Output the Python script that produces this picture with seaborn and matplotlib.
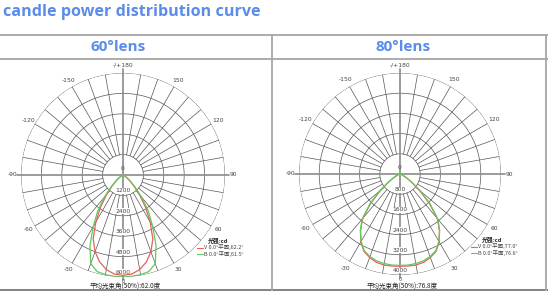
import numpy as np
import pandas as pd
import matplotlib
matplotlib.use("Agg")
import matplotlib.pyplot as plt
import seaborn as sns

# ---------------- data ----------------
angles = [-90, -80, -70, -60, -55, -50, -45, -40, -35, -30, -25, -20, -15, -10, -5, 0,
          5, 10, 15, 20, 25, 30, 35, 40, 45, 50, 55, 60, 70, 80, 90]

# 60° lens (cd)
v60 = [0, 10, 30, 100, 250, 500, 900, 1500, 2300, 3200, 4150, 4800, 5300, 5650, 5850, 5900,
       5850, 5650, 5300, 4800, 4150, 3200, 2300, 1500, 900, 500, 250, 100, 30, 10, 0]
b60 = [0, 10, 40, 120, 280, 550, 1000, 1700, 2600, 3500, 4600, 5550, 5880, 5950, 5980, 6000,
       5980, 5950, 5880, 5550, 4600, 3500, 2600, 1700, 1000, 550, 280, 120, 40, 10, 0]

# 80° lens (cd)
v80 = [0, 20, 80, 280, 550, 1000, 1650, 2300, 2720, 3100, 3380, 3520, 3620, 3660, 3660, 3650,
       3660, 3660, 3620, 3520, 3380, 3100, 2720, 2300, 1650, 1000, 550, 280, 80, 20, 0]
b80 = [0, 20, 90, 300, 580, 1050, 1700, 2330, 2740, 3080, 3350, 3480, 3560, 3600, 3620, 3620,
       3620, 3600, 3560, 3480, 3350, 3080, 2740, 2330, 1700, 1050, 580, 300, 90, 20, 0]

panel_titles = ["60°lens", "80°lens"]
ring_ticks_60 = [1200, 2400, 3600, 4800, 6000]
ring_ticks_80 = [800, 1600, 2400, 3200, 4000]
angle_ticks = [0, 30, 60, 90, 120, 150, 180, -150, -120, -90, -60, -30]
angle_labels = ["0", "30", "60", "90", "120", "150", "-/+180", "-150", "-120", "-90", "-60", "-30"]
legend_title = "光强:cd"
legend_60 = ["V 0.0°平面,62.2°", "B 0.0°平面,61.5°"]
legend_80 = ["V 0.0°平面,77.0°", "B 0.0°平面,76.6°"]
beam_60 = "平均光束角(50%):62.0度"
beam_80 = "平均光束角(50%):76.8度"
main_title = "candle power distribution curve"

# ---------------- style ----------------
sns.set_theme(style="white")
plt.rcParams["font.family"] = ["Noto Sans CJK SC", "DejaVu Sans"]

W, H = 548, 291
fig = plt.figure(figsize=(W / 100, H / 100), dpi=100)
fig.patch.set_facecolor("white")

BLUE = "#5b8ceb"
RED = "#e8605a"
GREEN = "#62c95a"
GRID = "#555555"
AXIS = "#8a8a8a"
TXT = "#444444"


def fx(x):
    return x / W


def fy(y):
    return 1 - y / H


# table frame
for y in (34.5, 59.0):
    fig.add_artist(plt.Line2D([0, 1], [fy(y), fy(y)], color="#a6a6a6", lw=1.3))
fig.add_artist(plt.Line2D([0, 1], [fy(289.5), fy(289.5)], color="#7a7a7a", lw=1.3))
for x in (272.0, 546.0):
    fig.add_artist(plt.Line2D([fx(x), fx(x)], [fy(34.5), fy(291)], color="#a6a6a6", lw=1.3))

fig.text(fx(3), fy(12), main_title, color=BLUE, fontsize=11.6, fontweight="bold",
         ha="left", va="center", family=["Open Sans", "DejaVu Sans"])
fig.text(fx(118), fy(47), panel_titles[0], color=BLUE, fontsize=11, fontweight="bold",
         ha="center", va="center", family=["Open Sans", "DejaVu Sans"])
fig.text(fx(403), fy(47), panel_titles[1], color=BLUE, fontsize=11, fontweight="bold",
         ha="center", va="center", family=["Open Sans", "DejaVu Sans"])


def polar_panel(cx, cy, R, rticks, v, b, leg, beam, legpos):
    rmax = rticks[-1]
    ax = fig.add_axes([fx(cx - R), fy(cy + R), 2 * R / W, 2 * R / H], projection="polar")
    ax.set_theta_zero_location("S")
    ax.set_theta_direction(1)
    ax.set_ylim(0, rmax)
    ax.grid(False)
    ax.set_xticks([])
    ax.set_yticks([])
    ax.spines["polar"].set_visible(False)
    ax.set_facecolor("none")

    circ = np.linspace(0, 2 * np.pi, 721)
    for r in rticks:
        ax.plot(circ, np.full_like(circ, r), color=GRID, lw=0.5, zorder=1)
    for a in range(0, 360, 10):
        if a % 90 == 0:
            continue
        t = np.radians(a)
        ax.plot([t, t], [rticks[0], rmax], color=GRID, lw=0.5, zorder=1)
    for a, e in ((0, 1.03), (90, 1.035), (180, 1.04), (270, 1.035)):
        t = np.radians(a)
        ax.plot([t, t], [0, rmax * e], color=AXIS, lw=1.2, zorder=1, clip_on=False)

    # angle labels
    for a, lab in zip(angle_ticks, angle_labels):
        rr = 1.075
        if a in (90, -90):
            rr = 1.085
        if a == 0:
            rr = 1.04
        ax.text(np.radians(a), rmax * rr, lab, fontsize=3.6 if a == 0 else 4.3, color=TXT,
                ha="center", va="center", family="DejaVu Sans", clip_on=False)

    # ring labels
    ax.text(np.pi, rmax * 0.06, "0", fontsize=4.3, color=TXT, ha="center", va="center",
            family="DejaVu Sans", zorder=3)
    for r in rticks:
        ax.text(0, r - rmax * 0.045, str(r), fontsize=4.3, color=TXT, ha="center",
                va="center", family="DejaVu Sans", zorder=3,
                bbox=dict(facecolor="white", edgecolor="none", pad=0.3))

    th = np.radians(angles)
    df = pd.DataFrame({"theta": np.concatenate([th, th]),
                       "cd": np.concatenate([v, b]),
                       "plane": ["V"] * len(th) + ["B"] * len(th)})
    sns.lineplot(data=df, x="theta", y="cd", hue="plane", palette={"V": RED, "B": GREEN},
                 sort=False, estimator=None, lw=0.9, legend=False, ax=ax, zorder=4)
    ax.set_xlabel("")
    ax.set_ylabel("")
    ax.set_ylim(0, rmax)

    # legend
    lx, ly = legpos
    fig.text(fx(lx + 21), fy(ly), legend_title, fontsize=4.2, fontweight="bold",
             color="#222222", ha="center", va="center")
    for i, (lab, col) in enumerate(zip(leg, [RED, GREEN])):
        yy = ly + 7 + i * 6.5
        fig.add_artist(plt.Line2D([fx(lx), fx(lx + 6)], [fy(yy), fy(yy)], color=col, lw=0.8))
        fig.text(fx(lx + 7), fy(yy), lab, fontsize=4.0, color=TXT, ha="left", va="center")
    fig.text(fx(cx + 2), fy(286.8), beam, fontsize=4.7, color="#222222", ha="center",
             va="center")
    return ax


polar_panel(123, 175, 102, ring_ticks_60, v60, b60, legend_60, beam_60, (197, 240.5))
polar_panel(400, 174, 101, ring_ticks_80, v80, b80, legend_80, beam_80, (471, 239.5))

fig.savefig("out.png", dpi=100)
